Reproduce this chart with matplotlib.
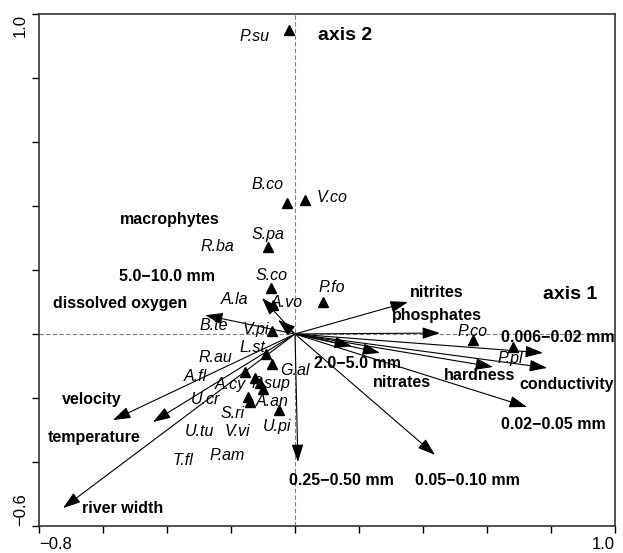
import numpy as np
import matplotlib
matplotlib.use("Agg")
import matplotlib.pyplot as plt

plt.rcParams['font.family'] = ['Liberation Sans', 'DejaVu Sans']

### Data ###
# Environmental variable arrows (tips in ordination space)
env_names = ["nitrites", "phosphates", "0.006\u22120.02 mm", "conductivity", "hardness",
             "0.02\u22120.05 mm", "2.0\u22125.0 mm", "nitrates", "0.05\u22120.10 mm",
             "0.25\u22120.50 mm", "river width", "temperature", "velocity",
             "dissolved oxygen", "macrophytes", "5.0\u221210.0 mm"]
env_x = [0.353, 0.453, 0.775, 0.788, 0.619, 0.725, 0.178, 0.266, 0.4375,
         0.009, -0.725, -0.444, -0.569, -0.281, -0.103, -0.053]
env_y = [0.100, 0.003, -0.059, -0.106, -0.103, -0.228, -0.038, -0.059, -0.378,
         -0.400, -0.544, -0.275, -0.269, 0.059, 0.1125, 0.044]
# where the variable names are printed
env_lab_x = [0.444, 0.444, 0.822, 0.850, 0.578, 0.806, 0.194, 0.334, 0.5375,
             0.144, -0.5375, -0.628, -0.634, -0.547, -0.390, -0.400]
env_lab_y = [0.131, 0.058, -0.0125, -0.159, -0.131, -0.284, -0.091, -0.153, -0.459,
             -0.459, -0.544, -0.322, -0.206, 0.094, 0.359, 0.181]

# Species scores (triangles)
sp_x = [-0.019, -0.025, 0.031, -0.084, -0.075, 0.0875, -0.069, -0.072, -0.091, -0.072,
        -0.156, -0.125, -0.109, -0.100, -0.147, -0.141, -0.050, 0.556, 0.680]
sp_y = [0.950, 0.409, 0.419, 0.272, 0.144, 0.100, 0.091, 0.009, -0.0625, -0.094,
        -0.119, -0.1375, -0.153, -0.172, -0.197, -0.2125, -0.2375, -0.019, -0.040]

# Species names and where they are printed
sp_names = ["P.su", "B.co", "V.co", "S.pa", "R.ba", "S.co", "A.la", "A.vo", "P.fo",
            "B.te", "V.pi", "L.st", "R.au", "G.al", "A.fl", "A.cy", "P.sup", "U.cr",
            "A.an", "S.ri", "U.pi", "U.tu", "V.vi", "T.fl", "P.am", "P.co", "P.pl"]
sp_lab_x = [-0.125, -0.0875, 0.116, -0.084, -0.244, -0.072, -0.1875, -0.025, 0.116,
            -0.253, -0.122, -0.134, -0.250, 0.000, -0.3125, -0.203, -0.075, -0.281,
            -0.072, -0.194, -0.056, -0.297, -0.181, -0.350, -0.2125, 0.556, 0.672]
sp_lab_y = [0.931, 0.466, 0.425, 0.3125, 0.272, 0.184, 0.109, 0.097, 0.144,
            0.025, 0.0156, -0.041, -0.075, -0.114, -0.134, -0.159, -0.156, -0.206,
            -0.2125, -0.247, -0.290, -0.306, -0.306, -0.394, -0.381, 0.008, -0.075]

### Plot ###
fig = plt.figure(figsize=(6.23, 5.53), dpi=100)
ax = fig.add_axes([39/623, 1-526/553, (615-39)/623, (526-14)/553])
ax.set_xlim(-0.8, 1.0)
ax.set_ylim(-0.6, 1.0)

# dashed axes through origin
ax.axvline(0, color="#808080", lw=0.8, ls=(0, (4, 2)), zorder=1)
ax.axhline(0, color="#808080", lw=0.8, ls=(0, (4, 2)), zorder=1)

# arrows
for x, y in zip(env_x, env_y):
    ax.annotate("", xy=(x, y), xytext=(0, 0),
                arrowprops=dict(arrowstyle="-|>,head_length=0.9,head_width=0.3",
                                color="black", lw=0.8, mutation_scale=12,
                                shrinkA=0, shrinkB=0), zorder=3)
for name, x, y in zip(env_names, env_lab_x, env_lab_y):
    ax.text(x, y, name, ha="center", va="center", fontsize=11.5, fontweight="bold")

# species
ax.plot(sp_x, sp_y, ls="none", marker="^", color="black", markersize=7, zorder=4)
for name, x, y in zip(sp_names, sp_lab_x, sp_lab_y):
    ax.text(x, y, name, ha="center", va="center", fontsize=11.5, style="italic")

# axis titles
ax.text(0.859, 0.122, "axis 1", ha="center", va="center", fontsize=14, fontweight="bold")
ax.text(0.156, 0.934, "axis 2", ha="center", va="center", fontsize=14, fontweight="bold")

# ticks: every 0.2, labels only at ends
xt = np.round(np.arange(-0.8, 1.01, 0.2), 1)
yt = np.round(np.arange(-0.6, 1.01, 0.2), 1)
ax.set_xticks(xt)
ax.set_yticks(yt)
ax.set_xticklabels(["\u22120.8"] + [""] * (len(xt) - 2) + ["1.0"], fontsize=12)
ax.set_yticklabels(["\u22120.6"] + [""] * (len(yt) - 2) + ["1.0"], fontsize=12,
                   rotation=90)
ax.tick_params(direction="out", length=5, width=1, pad=3)
xl = ax.get_xticklabels()
xl[0].set_ha("left")
xl[-1].set_ha("right")
yl = ax.get_yticklabels()
yl[0].set_va("bottom")
yl[-1].set_va("top")
for s in ax.spines.values():
    s.set_linewidth(1.2)
    s.set_color("#333333")

plt.savefig("out.png", dpi=100)
